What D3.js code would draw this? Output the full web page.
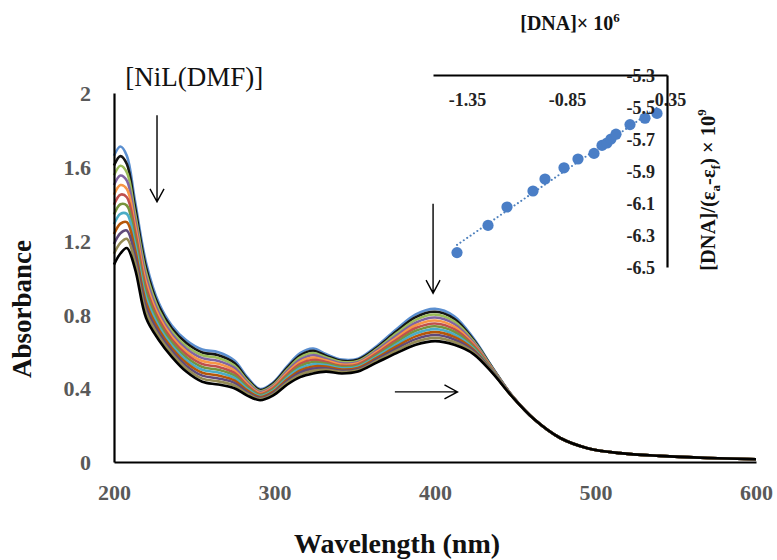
<!DOCTYPE html>
<html><head><meta charset="utf-8">
<script src="https://cdn.jsdelivr.net/npm/d3@7"></script>
<style>body{margin:0;background:#fff} svg{display:block}</style>
</head><body><svg id="c" width="777" height="560"></svg>
<script>
// ---------- main spectra data ----------
const wavelengths = [200,204,208,213,220,228,236,245,255,265,275,283,291,299,308,316,324,332,342,352,364,376,388,400,412,424,436,448,462,478,495,515,540,570,600];
const tail = [0.23,0.13,0.075,0.048,0.033,0.022,0.015];
const series01 = [1.660,1.710,1.660,1.420,1.080,0.860,0.740,0.660,0.610,0.595,0.550,0.460,0.395,0.430,0.520,0.590,0.615,0.585,0.555,0.560,0.630,0.720,0.800,0.830,0.790,0.670,0.510,0.360];
const series02 = [1.607,1.658,1.615,1.387,1.053,0.842,0.725,0.645,0.594,0.579,0.537,0.451,0.390,0.424,0.511,0.578,0.603,0.576,0.548,0.554,0.622,0.708,0.785,0.814,0.776,0.662,0.507,0.360];
const series03 = [1.554,1.606,1.570,1.353,1.026,0.824,0.709,0.629,0.579,0.564,0.523,0.442,0.384,0.417,0.502,0.567,0.591,0.568,0.542,0.547,0.614,0.697,0.770,0.799,0.762,0.655,0.505,0.359];
const series04 = [1.501,1.553,1.525,1.320,0.999,0.806,0.694,0.614,0.563,0.548,0.510,0.433,0.379,0.411,0.493,0.555,0.579,0.559,0.535,0.541,0.606,0.685,0.755,0.783,0.748,0.647,0.502,0.359];
const series05 = [1.448,1.501,1.480,1.287,0.972,0.788,0.679,0.599,0.547,0.532,0.496,0.424,0.373,0.405,0.484,0.543,0.566,0.551,0.528,0.535,0.598,0.673,0.741,0.767,0.734,0.639,0.499,0.358];
const series06 = [1.394,1.449,1.435,1.254,0.945,0.770,0.664,0.584,0.531,0.516,0.483,0.415,0.368,0.399,0.475,0.532,0.554,0.542,0.521,0.529,0.590,0.662,0.726,0.751,0.720,0.632,0.497,0.358];
const series07 = [1.341,1.397,1.390,1.220,0.918,0.752,0.648,0.568,0.515,0.500,0.469,0.406,0.363,0.392,0.466,0.520,0.542,0.534,0.515,0.522,0.581,0.650,0.711,0.736,0.706,0.624,0.494,0.357];
const series08 = [1.288,1.345,1.345,1.187,0.891,0.734,0.633,0.553,0.500,0.485,0.456,0.397,0.357,0.386,0.457,0.508,0.530,0.525,0.508,0.516,0.573,0.638,0.696,0.720,0.692,0.616,0.491,0.357];
const series09 = [1.235,1.292,1.300,1.154,0.864,0.716,0.618,0.538,0.484,0.469,0.442,0.388,0.352,0.380,0.448,0.496,0.518,0.517,0.501,0.510,0.565,0.626,0.681,0.704,0.678,0.609,0.488,0.356];
const series10 = [1.182,1.240,1.255,1.120,0.837,0.698,0.602,0.522,0.468,0.453,0.429,0.379,0.346,0.373,0.439,0.485,0.506,0.508,0.494,0.503,0.557,0.615,0.666,0.688,0.664,0.601,0.486,0.356];
const series11 = [1.129,1.188,1.210,1.087,0.810,0.680,0.587,0.507,0.452,0.437,0.415,0.370,0.341,0.367,0.430,0.473,0.494,0.500,0.488,0.497,0.549,0.603,0.652,0.673,0.650,0.594,0.483,0.355];
const series12 = [1.070,1.130,1.160,1.050,0.780,0.660,0.570,0.490,0.435,0.420,0.400,0.360,0.335,0.360,0.420,0.460,0.480,0.490,0.480,0.490,0.540,0.590,0.635,0.655,0.635,0.585,0.480,0.355];
const seriesColors = ["#5b8fd0","#151515","#9bbb59","#8064a2","#f79646","#c0504d","#77933c","#4bacc6","#b65708","#604a7b","#948a54","#000000"];
const xTicks = [200,300,400,500,600];
const yTicks = [0,0.4,0.8,1.2,1.6,2];

// annotations (wavelength, absorbance)
const arrowsDown = [{w:226.8,a1:1.88,a2:1.41},{w:398.8,a1:1.40,a2:0.915}];
const arrowsRight = [{a:0.38,w1:375,w2:414}];

// ---------- inset data ----------
const dnaX = [-1.40,-1.245,-1.15,-1.02,-0.96,-0.865,-0.795,-0.715,-0.675,-0.65,-0.63,-0.605,-0.535,-0.46,-0.40];
const dnaY = [-6.41,-6.24,-6.125,-6.025,-5.95,-5.88,-5.825,-5.79,-5.74,-5.725,-5.70,-5.67,-5.61,-5.57,-5.54];
const insetXTicks = [-1.35,-0.85,-0.35];
const insetYTicks = [-5.3,-5.5,-5.7,-5.9,-6.1,-6.3,-6.5];

const serif = "'Liberation Serif','Times New Roman',serif";
const svg = d3.select("#c");

const x = d3.scaleLinear().domain([200,600]).range([114,756]);
const y = d3.scaleLinear().domain([0,2]).range([462,93]);

const allSeries = [series01,series02,series03,series04,series05,series06,series07,series08,series09,series10,series11,series12]
  .map(s => s.concat(tail));

const line = d3.line().x((d,i)=>x(wavelengths[i])).y(d=>y(d)).curve(d3.curveCatmullRom.alpha(0.5));
svg.append("g").selectAll("path").data(allSeries).join("path")
  .attr("d", line).attr("fill","none")
  .attr("stroke",(d,i)=>seriesColors[i]).attr("stroke-width",2.6).attr("stroke-linejoin","round");

// axes
const gx = svg.append("g").attr("transform",`translate(0,${y(0)})`)
  .call(d3.axisBottom(x).tickValues(xTicks).tickSize(0).tickFormat(d3.format("d")));
gx.select(".domain").attr("stroke","#000").attr("stroke-width",2.2);
gx.selectAll("text").attr("y",30).attr("dy","0.35em")
  .attr("font-family",serif).attr("font-weight","bold").attr("font-size",22).attr("fill","#595959");

const gy = svg.append("g").attr("transform",`translate(${x(200)},0)`)
  .call(d3.axisLeft(y).tickValues(yTicks).tickSize(0).tickPadding(23).tickFormat(d=>d3.format("")(d)));
gy.select(".domain").attr("stroke","#000").attr("stroke-width",2.2);
gy.selectAll("text").attr("dy","0.35em")
  .attr("font-family",serif).attr("font-weight","bold").attr("font-size",22).attr("fill","#595959");

svg.append("text").attr("x",397).attr("y",553).attr("text-anchor","middle")
  .attr("font-family",serif).attr("font-weight","bold").attr("font-size",28).attr("fill","#111")
  .text("Wavelength (nm)");
svg.append("text").attr("transform","translate(31,309) rotate(-90)").attr("text-anchor","middle")
  .attr("font-family",serif).attr("font-weight","bold").attr("font-size",27).attr("fill","#111")
  .text("Absorbance");
svg.append("text").attr("x",x(207)).attr("y",y(2.04)).attr("font-family",serif)
  .attr("font-size",27).attr("fill","#111").text("[NiL(DMF)]");

// arrows
const arr = svg.append("g").attr("stroke","#000").attr("stroke-width",1.4).attr("fill","none");
arrowsDown.forEach(a=>{
  const px=x(a.w), y1=y(a.a1), y2=y(a.a2);
  arr.append("path").attr("d",`M${px},${y1}V${y2}M${px-7},${y2-13}L${px},${y2}L${px+7},${y2-13}`);
});
arrowsRight.forEach(a=>{
  const py=y(a.a), x1=x(a.w1), x2=x(a.w2);
  arr.append("path").attr("d",`M${x1},${py}H${x2}M${x2-13},${py-7}L${x2},${py}L${x2-13},${py+7}`);
});

// ---------- inset ----------
const ix = d3.scaleLinear().domain([-1.52,-0.35]).range([433,667]);
const iy = d3.scaleLinear().domain([-6.5,-5.3]).range([267,75]);
const hy = f => v => f(v).replace("\u2212","-");

// trendline (least squares from data)
const mx = d3.mean(dnaX), my = d3.mean(dnaY);
const slope = d3.sum(dnaX.map((v,i)=>(v-mx)*(dnaY[i]-my))) / d3.sum(dnaX.map(v=>(v-mx)*(v-mx)));
const icpt = my - slope*mx;
const xr = d3.extent(dnaX);
svg.append("line").attr("x1",ix(xr[0])).attr("y1",iy(slope*xr[0]+icpt))
  .attr("x2",ix(xr[1])).attr("y2",iy(slope*xr[1]+icpt))
  .attr("stroke","#4f81bd").attr("stroke-width",2).attr("stroke-dasharray","0.1 4").attr("stroke-linecap","round");

svg.append("g").selectAll("circle").data(dnaX).join("circle")
  .attr("cx",d=>ix(d)).attr("cy",(d,i)=>iy(dnaY[i])).attr("r",5.6).attr("fill","#4a7ec6");

const gix = svg.append("g").attr("transform",`translate(0,${iy(-5.3)})`)
  .call(d3.axisBottom(ix).tickValues(insetXTicks).tickSize(0).tickFormat(hy(d3.format(".2f"))));
gix.select(".domain").attr("stroke","#000").attr("stroke-width",2.2);
gix.selectAll("text").attr("y",25).attr("dy","0.35em")
  .attr("font-family",serif).attr("font-weight","bold").attr("font-size",18).attr("fill","#222");

const giy = svg.append("g").attr("transform",`translate(${ix(-0.35)},0)`)
  .call(d3.axisLeft(iy).tickValues(insetYTicks).tickSize(0).tickPadding(12).tickFormat(hy(d3.format(".1f"))));
giy.select(".domain").attr("stroke","#000").attr("stroke-width",2.2);
giy.selectAll("text").attr("dy","0.35em")
  .attr("font-family",serif).attr("font-weight","bold").attr("font-size",18).attr("fill","#222");

const t1 = svg.append("text").attr("x",570).attr("y",30).attr("text-anchor","middle")
  .attr("font-family",serif).attr("font-weight","bold").attr("font-size",20).attr("fill","#111");
t1.append("tspan").text("[DNA]× 10");
t1.append("tspan").attr("dy",-8).attr("font-size",13).text("6");

const t2 = svg.append("text").attr("transform","translate(715,190) rotate(-90)").attr("text-anchor","middle")
  .attr("font-family",serif).attr("font-weight","bold").attr("font-size",20.5).attr("fill","#111");
t2.append("tspan").text("[DNA]/(ε");
t2.append("tspan").attr("dy",5).attr("font-size",13).text("a");
t2.append("tspan").attr("dy",-5).text("-ε");
t2.append("tspan").attr("dy",5).attr("font-size",13).text("f");
t2.append("tspan").attr("dy",-5).text(") × 10");
t2.append("tspan").attr("dy",-9).attr("font-size",13).text("9");
</script></body></html>
